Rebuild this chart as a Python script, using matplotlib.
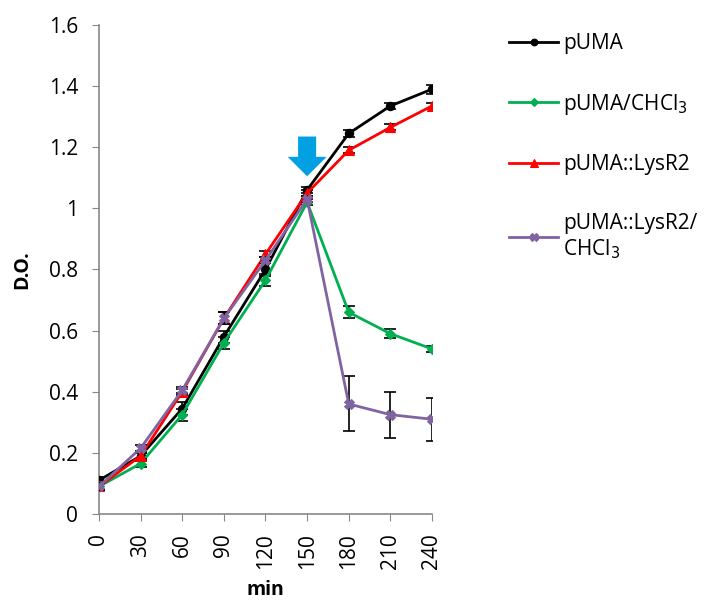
import numpy as np
import matplotlib.pyplot as plt

plt.rcParams['font.family'] = ['Open Sans', 'DejaVu Sans']

t = [0, 30, 60, 90, 120, 150, 180, 210, 240]
puma = [0.11, 0.19, 0.345, 0.58, 0.80, 1.06, 1.245, 1.335, 1.39]
puma_err = [0.01, 0.01, 0.02, 0.02, 0.02, 0.01, 0.01, 0.01, 0.015]
puma_chcl3 = [0.09, 0.165, 0.325, 0.56, 0.765, 1.02, 0.66, 0.59, 0.54]
puma_chcl3_err = [0.01, 0.01, 0.02, 0.02, 0.02, 0.01, 0.02, 0.015, 0.01]
lysr2 = [0.09, 0.19, 0.40, 0.64, 0.85, 1.05, 1.19, 1.265, 1.335]
lysr2_err = [0.01, 0.01, 0.01, 0.02, 0.01, 0.01, 0.01, 0.01, 0.01]
lysr2_chcl3 = [0.09, 0.215, 0.405, 0.64, 0.83, 1.03, 0.36, 0.325, 0.31]
lysr2_chcl3_err = [0.01, 0.01, 0.01, 0.02, 0.01, 0.01, 0.09, 0.075, 0.07]

series = [
    ('pUMA', puma, puma_err, '#000000', 'o', 6),
    ('pUMA/CHCl$_3$', puma_chcl3, puma_chcl3_err, '#00B050', 'D', 5.5),
    ('pUMA::LysR2', lysr2, lysr2_err, '#FF0000', '^', 6.5),
    ('pUMA::LysR2/\nCHCl$_3$', lysr2_chcl3, lysr2_chcl3_err, '#8064A2', 'X', 7),
]

fig = plt.figure(figsize=(7.09, 6.02), dpi=100)
ax = fig.add_axes([0.1396, 0.1462, 0.4697, 0.8123])

for i, (lab, y, e, c, m, ms) in enumerate(series):
    ax.errorbar(t, y, yerr=e, fmt='none', ecolor='black', elinewidth=1.2,
                capsize=4, capthick=1.2, zorder=2 + i)
    ax.plot(t, y, color=c, marker=m, markersize=ms, lw=2, label=lab,
            zorder=3 + i, markeredgewidth=0.8)

# arrow marking chloroform addition
ax.annotate('', xy=(150, 1.105), xytext=(150, 1.235),
            arrowprops=dict(facecolor='#00A0E3', edgecolor='none',
                            width=13, headwidth=28, headlength=14))

ax.set_xlim(0, 240)
ax.set_ylim(0, 1.6)
ax.set_xticks(t)
ax.set_xticklabels([str(v) for v in t], rotation=90)
ax.set_yticks(np.arange(0, 1.61, 0.2))
ax.set_yticklabels(['0', '0.2', '0.4', '0.6', '0.8', '1', '1.2', '1.4', '1.6'])
ax.tick_params(labelsize=15, color='#888888', length=5, direction='out')
ax.tick_params(axis='y', pad=10)
ax.tick_params(axis='x', pad=9)
for s in ['top', 'right']:
    ax.spines[s].set_visible(False)
for s in ['left', 'bottom']:
    ax.spines[s].set_color('#888888')
    ax.spines[s].set_linewidth(1.2)
ax.set_xlabel('min', fontsize=14, fontweight='bold', labelpad=8)
ax.set_ylabel('D.O.', fontsize=14, fontweight='bold', labelpad=12)

fig.legend(loc='upper left', bbox_to_anchor=(0.718, 0.945), frameon=False,
           fontsize=15, labelspacing=1.8, handlelength=2.35,
           handletextpad=0.25, markerscale=0.8, borderaxespad=0, borderpad=0)

fig.savefig('out.png', dpi=100)
